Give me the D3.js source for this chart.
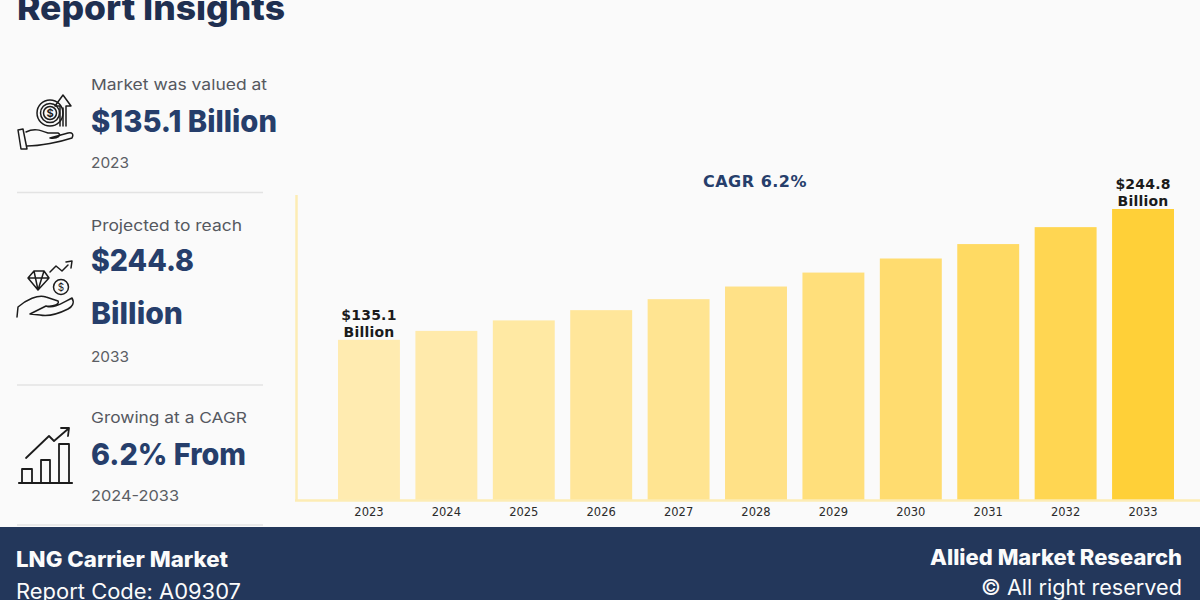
<!DOCTYPE html>
<html>
<head>
<meta charset="utf-8">
<script src="https://cdn.jsdelivr.net/npm/d3@7/dist/d3.min.js"></script>
<style>
html,body{margin:0;padding:0;background:#fafafa;overflow:hidden}
svg{display:block}
</style>
</head>
<body>
<svg id="chart" width="1200" height="600"></svg>
<script>
// LNG carrier market size by year, in USD billion
const years = ["2023","2024","2025","2026","2027","2028","2029","2030","2031","2032","2033"];
const marketValues = [135.1,142.6,151.4,160,169.2,179.8,191.5,203.3,215.4,229.6,244.8];
const barColors = ["#ffebb0","#ffeaab","#ffe9a3","#ffe69a","#ffe491","#ffe187","#ffdf7b","#ffdc6f","#ffda63","#ffd652","#ffd038"];
const valueLabels = {"2023":["$135.1","Billion"],"2033":["$244.8","Billion"]};

// Left panel wording
const leadTexts = ["Market was valued at","Projected to reach","Growing at a CAGR"];
const bigTexts = ["$135.1 Billion","$244.8","Billion","6.2% From"];
const footTexts = ["2023","2033","2024-2033"];

const NAVY="#23375b", BLUE="#263e6b", AXIS="#fdecb4";
const svg=d3.select("#chart");
const ui="Inter, 'Open Sans', sans-serif";

// Writes one line stretched to a fixed width so the geometric lettering keeps its run length
function fitted(parent,str,px,py,width,size,weight,fill,family){
  return parent.append("text").attr("x",px).attr("y",py).attr("font-family",family||ui)
    .attr("font-size",size).attr("font-weight",weight).attr("fill",fill)
    .attr("textLength",width).attr("lengthAdjust","spacingAndGlyphs").text(str);
}

svg.append("rect").attr("width",1200).attr("height",600).attr("fill","#fafafa");

// Heading, cut by the top edge
fitted(svg,"Report Insights",17,20,268,34,800,"#1f2f50");

// Insight panel text
const panel=svg.append("g");
[[90,176],[231,151],[423,156]].forEach(([py,w],i)=>fitted(panel,leadTexts[i],91,py,w,15,400,"#55585f"));
[[132,186],[271,103],[324,92],[465,155]].forEach(([py,w],i)=>fitted(panel,bigTexts[i],91,py,w,30,800,BLUE));
[[168,38],[362,38],[501,88]].forEach(([py,w],i)=>fitted(panel,footTexts[i],91,py,w,15,400,"#5b5e64"));
panel.selectAll("line.div").data([192.5,385,525]).join("line").attr("class","div")
  .attr("x1",17).attr("x2",263).attr("y1",d=>d).attr("y2",d=>d)
  .attr("stroke","#e3e3e3").attr("stroke-width",1.6);

// Line icons
const icons=svg.append("g").attr("fill","none").attr("stroke","#1c1c1c").attr("stroke-width",1.5)
  .attr("stroke-linejoin","round").attr("stroke-linecap","round");
const hand1=icons.append("g");
hand1.append("path").attr("d","M18 130 L23 129 L27 149 L21 149 Z");
hand1.append("path").attr("d","M26 132 C34 128 40 130 48 133 L58 133 C62 135 58 139 50 138 M27 146 C40 146 60 142 72 138 C74 134 72 132 68 133 L50 138");
hand1.append("circle").attr("cx",50).attr("cy",113).attr("r",13);
hand1.append("circle").attr("cx",50).attr("cy",113).attr("r",9.5);
hand1.append("circle").attr("cx",50).attr("cy",113).attr("r",6.5);
hand1.append("path").attr("d","M60 126 L60 106 L55 106 L63 95 L71 106 L66 106 L66 126 M63 126 L63 108");
const hand2=icons.append("g");
hand2.append("path").attr("d","M17 317 L18 307 C26 300 38 294 46 297 L58 301 C60 304 54 307 46 306 M46 306 C54 309 62 303 72 298 C75 303 72 307 68 309 C60 313 50 317 40 315 L30 314 Z");
hand2.append("path").attr("d","M28 278 L34 271 L44 271 L49 278 L38 290 Z M28 278 L49 278 M34 271 L38 290 L44 271");
hand2.append("circle").attr("cx",61).attr("cy",287).attr("r",7.5);
hand2.append("path").attr("d","M50 272 L56 266 L62 271 L68 265 M66 262 L72 261 L71 268");
hand2.append("text").attr("x",61).attr("y",291).attr("text-anchor","middle").attr("font-size",10)
  .attr("stroke","none").attr("fill","#1c1c1c").attr("font-family",ui).text("$");
icons.append("text").attr("x",50).attr("y",117).attr("text-anchor","middle").attr("font-size",11)
  .attr("font-weight",700).attr("stroke","none").attr("fill","#1c1c1c").attr("font-family",ui).text("$");
const trend=icons.append("g").attr("stroke-width",1.8);
trend.append("path").attr("d","M19 483 L72 483").attr("stroke-width",2.2);
trend.append("path").attr("d","M22 483 V469 H32 V483 M41 483 V460 H50 V483 M59 483 V444 H69 V483");
trend.append("path").attr("d","M26 458 L49 436 L54 441 L68 429 M61 428 L69 428 L68 436");

// Bar chart
const baseY=501, plotH=292;
const x=d3.scaleBand().domain(years).range([338,1174]).paddingInner(0.2);
const y=d3.scaleLinear().domain([0,244.8]).range([baseY,baseY-plotH]);

const chart=svg.append("g");
chart.selectAll("rect.bar").data(years).join("rect").attr("class","bar")
  .attr("x",d=>x(d)).attr("width",x.bandwidth())
  .attr("y",(d,i)=>y(marketValues[i])).attr("height",(d,i)=>baseY-y(marketValues[i]))
  .attr("fill",(d,i)=>barColors[i]);

// Axis lines
chart.append("line").attr("x1",296.5).attr("x2",296.5).attr("y1",195).attr("y2",501)
  .attr("stroke",AXIS).attr("stroke-width",2.5);
chart.append("line").attr("x1",295).attr("x2",1200).attr("y1",500.5).attr("y2",500.5)
  .attr("stroke",AXIS).attr("stroke-width",2.5);

// Year labels
const xAxis=chart.append("g").attr("transform",`translate(0,${baseY})`)
  .call(d3.axisBottom(x).tickSize(0).tickPadding(5));
xAxis.select(".domain").remove();
xAxis.selectAll("text").attr("font-family","'DejaVu Sans'").attr("font-size",11.5)
  .attr("fill","#2b2b2b").attr("dy","0.85em");

// Value labels on the first and last bars
const lab="'DejaVu Sans'";
years.filter(d=>valueLabels[d]).forEach(d=>{
  const i=years.indexOf(d), top=y(marketValues[i]), cx=x(d)+x.bandwidth()/2;
  valueLabels[d].forEach((t,k)=>chart.append("text").attr("x",cx).attr("y",top-(k===0?20:3))
    .attr("text-anchor","middle").attr("font-family",lab).attr("font-weight",700)
    .attr("font-size",14).attr("letter-spacing",0.2).attr("fill","#1b1b1b").text(t));
});
chart.append("text").attr("x",755).attr("y",187).attr("text-anchor","middle").attr("font-family",lab)
  .attr("font-weight",700).attr("font-size",16).attr("letter-spacing",0.5).attr("fill",BLUE).text("CAGR 6.2%");

// Footer band
svg.append("rect").attr("y",527).attr("width",1200).attr("height",73).attr("fill",NAVY);
const foot=svg.append("g");
fitted(foot,"LNG Carrier Market",16,567,212,21,800,"#fbfbfb");
fitted(foot,"Report Code: A09307",16,599,225,21,400,"#fbfbfb");
fitted(foot,"Allied Market Research",930,565,252,21,800,"#fbfbfb");
fitted(foot,"© All right reserved",981,595,201,21,400,"#fbfbfb");
</script>
</body>
</html>
